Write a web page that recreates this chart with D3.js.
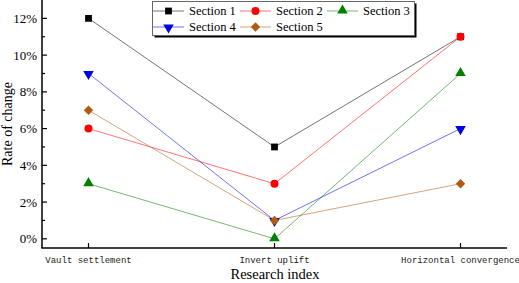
<!DOCTYPE html>
<html>
<head>
<meta charset="utf-8">
<script src="https://cdn.jsdelivr.net/npm/d3@7"></script>
<style>
  body { margin: 0; background: #fff; }
  svg { display: block; }
</style>
</head>
<body>
<div id="chart"></div>
<script>
const categories = ["Vault settlement", "Invert uplift", "Horizontal convergence"];
const seriesNames = ["Section 1", "Section 2", "Section 3", "Section 4", "Section 5"];
const section1 = [12, 5, 11];
const section2 = [6, 3, 11];
const section3 = [3, 0, 9];
const section4 = [9, 1, 6];
const section5 = [7, 1, 3];
const yTicks = [0, 2, 4, 6, 8, 10, 12];

const seriesValues = [section1, section2, section3, section4, section5];
const colors = ["#000000", "#ff0000", "#008000", "#0000e0", "#b35a12"];
const shapes = ["square", "circle", "up", "down", "diamond"];

const width = 519, height = 283;
const margin = { top: 0, right: 12, bottom: 35, left: 42 };

const svg = d3.select("#chart").append("svg")
  .attr("width", width)
  .attr("height", height);

const x = d3.scalePoint().domain(categories)
  .range([margin.left, width - margin.right]).padding(0.25);
const y = d3.scaleLinear().domain([-0.5, 13])
  .range([height - margin.bottom, margin.top]);

// markers
function marker(g, i, cx, cy) {
  const s = shapes[i];
  let sym = d3.symbolSquare, size = 46, rot = 0, dy = 0;
  if (s === "circle") { sym = d3.symbolCircle; size = 50; }
  if (s === "up") { sym = d3.symbolTriangle; size = 48; dy = -0.5; }
  if (s === "down") { sym = d3.symbolTriangle; size = 48; rot = 180; dy = 0.5; }
  if (s === "diamond") { sym = d3.symbolSquare; size = 44; rot = 45; }
  g.append("path")
    .attr("d", d3.symbol(sym, size)())
    .attr("transform", `translate(${cx},${cy + dy}) rotate(${rot})`)
    .attr("fill", colors[i]);
}

// lines
const line = d3.line().x((d, i) => x(categories[i])).y(d => y(d));
seriesValues.forEach((vals, i) => {
  svg.append("path")
    .attr("d", line(vals))
    .attr("fill", "none")
    .attr("stroke", colors[i])
    .attr("stroke-opacity", 0.55)
    .attr("stroke-width", 1);
});
seriesValues.forEach((vals, i) => {
  const g = svg.append("g");
  vals.forEach((v, j) => marker(g, i, x(categories[j]), y(v)));
});

// y axis
const yAxisG = svg.append("g").attr("transform", `translate(${margin.left},0)`);
yAxisG.append("line")
  .attr("x1", 0).attr("x2", 0)
  .attr("y1", 0).attr("y2", height - margin.bottom)
  .attr("stroke", "#000").attr("stroke-width", 1.5);
d3.range(0, 13, 1).forEach(t => {
  const major = t % 2 === 0;
  yAxisG.append("line")
    .attr("x1", 0).attr("x2", major ? 5 : 3)
    .attr("y1", y(t)).attr("y2", y(t))
    .attr("stroke", "#000").attr("stroke-width", 1.2);
});
yTicks.forEach(t => {
  yAxisG.append("text")
    .attr("x", -5).attr("y", y(t)).attr("dy", "0.35em")
    .attr("text-anchor", "end")
    .attr("font-family", "Liberation Serif, Times New Roman, serif")
    .attr("font-size", 13)
    .text(t + "%");
});

// x axis
const xAxisG = svg.append("g").attr("transform", `translate(0,${height - margin.bottom})`);
xAxisG.append("line")
  .attr("x1", margin.left - 0.75).attr("x2", width - margin.right)
  .attr("y1", 0).attr("y2", 0)
  .attr("stroke", "#000").attr("stroke-width", 1.5);
categories.forEach(c => {
  xAxisG.append("line")
    .attr("x1", x(c)).attr("x2", x(c))
    .attr("y1", 0).attr("y2", -5)
    .attr("stroke", "#000").attr("stroke-width", 1.2);
  xAxisG.append("text")
    .attr("x", x(c)).attr("y", 15)
    .attr("text-anchor", "middle")
    .attr("font-family", "Liberation Mono, DejaVu Sans Mono, monospace")
    .attr("font-size", 9)
    .attr("fill", "#222")
    .text(c);
});

// axis titles
svg.append("text")
  .attr("x", 275).attr("y", 279)
  .attr("text-anchor", "middle")
  .attr("font-family", "Liberation Serif, Times New Roman, serif")
  .attr("font-size", 14.5)
  .text("Research index");
svg.append("text")
  .attr("transform", "translate(12,124) rotate(-90)")
  .attr("text-anchor", "middle")
  .attr("font-family", "Liberation Serif, Times New Roman, serif")
  .attr("font-size", 14)
  .text("Rate of change");

// legend
const legend = svg.append("g").attr("transform", "translate(152,1)");
legend.append("rect")
  .attr("x", 2.5).attr("y", 2.5).attr("width", 262).attr("height", 34)
  .attr("fill", "#000");
legend.append("rect")
  .attr("x", 0.5).attr("y", 0.5).attr("width", 262).attr("height", 34)
  .attr("fill", "#fff").attr("stroke", "#666").attr("stroke-width", 1);
seriesNames.forEach((name, i) => {
  const col = i % 3, row = Math.floor(i / 3);
  const lx = 1 + col * 87, ly = 10 + row * 16;
  const g = legend.append("g");
  g.append("line")
    .attr("x1", lx).attr("x2", lx + 31)
    .attr("y1", ly).attr("y2", ly)
    .attr("stroke", colors[i]).attr("stroke-opacity", 0.55).attr("stroke-width", 1);
  marker(g, i, lx + 15.5, ly);
  g.append("text")
    .attr("x", lx + 36).attr("y", ly).attr("dy", "0.35em")
    .attr("font-family", "Liberation Serif, Times New Roman, serif")
    .attr("font-size", 12.5)
    .text(name);
});
</script>
</body>
</html>
